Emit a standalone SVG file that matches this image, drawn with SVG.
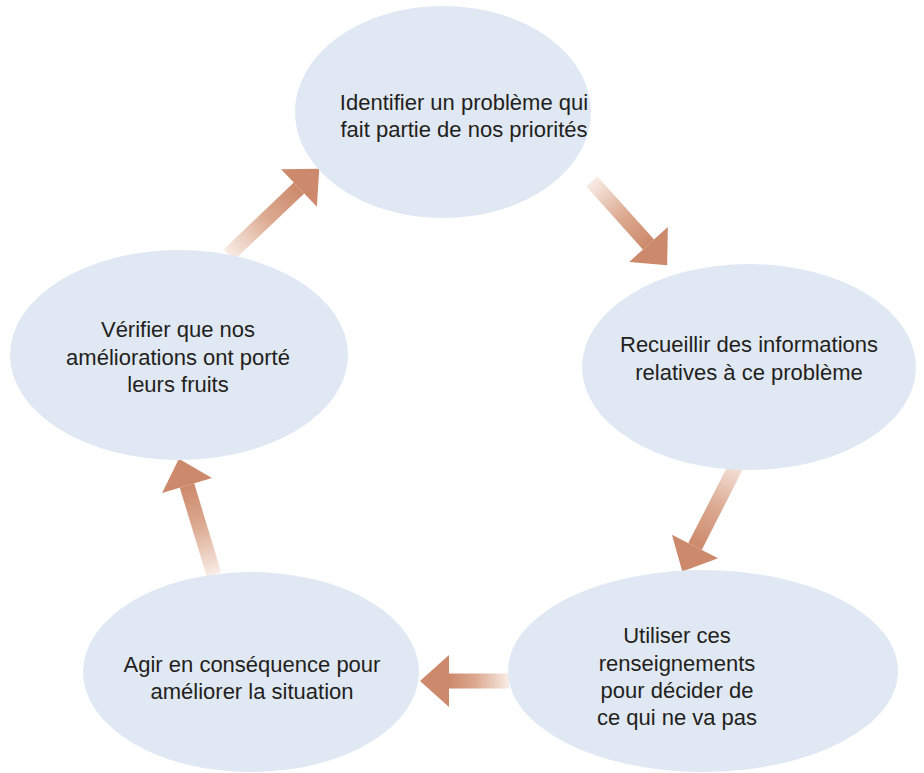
<svg xmlns="http://www.w3.org/2000/svg" width="924" height="773" viewBox="0 0 924 773">
<defs>
<style>
.node{fill:#e0e8f3}
.t{font-family:"Liberation Sans",Arial,sans-serif;font-size:22px;fill:#231f20;text-anchor:middle}
.head{fill:#cc896b}
</style>
<linearGradient id="g1" gradientUnits="userSpaceOnUse" x1="591.7" y1="181.3" x2="648.5" y2="244.5"><stop offset="0" stop-color="#f8ece5"/><stop offset="0.55" stop-color="#dcaa91"/><stop offset="1" stop-color="#cc896b"/></linearGradient>
<linearGradient id="g2" gradientUnits="userSpaceOnUse" x1="740" y1="458.4" x2="695" y2="546.5"><stop offset="0" stop-color="#f8ece5"/><stop offset="0.55" stop-color="#dcaa91"/><stop offset="1" stop-color="#cc896b"/></linearGradient>
<linearGradient id="g3" gradientUnits="userSpaceOnUse" x1="509" y1="681" x2="449" y2="681"><stop offset="0" stop-color="#f8ece5"/><stop offset="0.55" stop-color="#dcaa91"/><stop offset="1" stop-color="#cc896b"/></linearGradient>
<linearGradient id="g4" gradientUnits="userSpaceOnUse" x1="214" y1="574.5" x2="187" y2="485.5"><stop offset="0" stop-color="#f8ece5"/><stop offset="0.55" stop-color="#dcaa91"/><stop offset="1" stop-color="#cc896b"/></linearGradient>
<linearGradient id="g5" gradientUnits="userSpaceOnUse" x1="228.8" y1="254.9" x2="299" y2="188"><stop offset="0" stop-color="#f8ece5"/><stop offset="0.55" stop-color="#dcaa91"/><stop offset="1" stop-color="#cc896b"/></linearGradient>
</defs>
<rect width="924" height="773" fill="#ffffff"/>
<g id="connectors">
<g id="a1"><polygon fill="url(#g1)" points="586.1,186.3 642.9,249.5 654.1,239.5 597.3,176.3"/><polygon class="head" points="629.2,261.9 667.2,265.3 667.8,227.1"/></g>
<g id="a2"><polygon fill="url(#g2)" points="733.3,455 688.3,543.1 701.7,549.9 746.7,461.8"/><polygon class="head" points="671.9,534.7 682.3,571.4 718.1,558.3"/></g>
<g id="a3"><polygon fill="url(#g3)" points="509,673.5 449,673.5 449,688.5 509,688.5"/><polygon class="head" points="449,655 420,681 449,707"/></g>
<g id="a4"><polygon fill="url(#g4)" points="221.2,572.3 194.2,483.3 179.8,487.7 206.8,576.7"/><polygon class="head" points="211.9,478 178.9,458.7 162.1,493"/></g>
<g id="a5"><polygon fill="url(#g5)" points="234,260.3 304.2,193.4 293.8,182.6 223.6,249.5"/><polygon class="head" points="316.9,206.8 319.3,168.7 281.1,169.2"/></g>
</g>
<g id="n1"><ellipse class="node" cx="443" cy="112" rx="148" ry="106"/>
<text class="t" x="464" y="110">Identifier un problème qui</text>
<text class="t" x="464" y="137">fait partie de nos priorités</text></g>
<g id="n2"><ellipse class="node" cx="749" cy="367" rx="167" ry="103"/>
<text class="t" x="749" y="352">Recueillir des informations</text>
<text class="t" x="749" y="380">relatives à ce problème</text></g>
<g id="n3"><ellipse class="node" cx="703" cy="671" rx="195" ry="101"/>
<text class="t" x="677" y="643">Utiliser ces</text>
<text class="t" x="677" y="671">renseignements</text>
<text class="t" x="677" y="698">pour décider de</text>
<text class="t" x="677" y="725">ce qui ne va pas</text></g>
<g id="n4"><ellipse class="node" cx="251" cy="672" rx="168" ry="100"/>
<text class="t" x="252" y="672">Agir en conséquence pour</text>
<text class="t" x="252" y="699">améliorer la situation</text></g>
<g id="n5"><ellipse class="node" cx="179" cy="355" rx="169" ry="105"/>
<text class="t" x="178" y="337">Vérifier que nos</text>
<text class="t" x="178" y="365">améliorations ont porté</text>
<text class="t" x="178" y="392">leurs fruits</text></g>
</svg>
